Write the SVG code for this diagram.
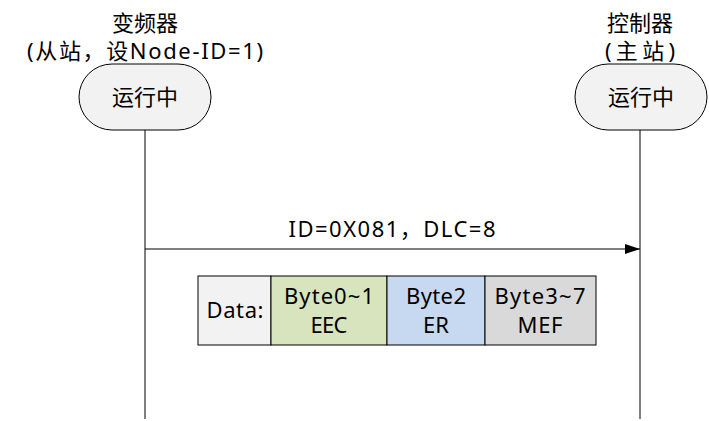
<svg xmlns="http://www.w3.org/2000/svg" width="709" height="421" viewBox="0 0 709 421">
<style>
text{font-family:"Noto Sans","Noto Sans CJK SC",sans-serif;font-size:22px;fill:#000;text-anchor:middle}
.node{fill:#f2f2f2;stroke:#000;stroke-width:1}
.life{stroke:#000;stroke-width:1;fill:none}
.cell{stroke:#000;stroke-width:1}
</style>
<defs>
<marker id="arr" markerWidth="16" markerHeight="10" refX="15" refY="5" orient="auto" markerUnits="userSpaceOnUse">
<path d="M0,0 L15,5 L0,10 Z" fill="#000"/>
</marker>
</defs>
<g id="connectors">
<line class="life" x1="145" y1="130" x2="145" y2="419"/>
<line class="life" x1="640" y1="130" x2="640" y2="419"/>
<line class="life" x1="145" y1="249" x2="640" y2="249" marker-end="url(#arr)"/>
<text x="392" y="237" textLength="207" lengthAdjust="spacing">ID=0X081，DLC=8</text>
</g>
<g id="slave">
<text x="145" y="31">变频器</text>
<text x="145" y="59" textLength="236" lengthAdjust="spacing">(从站，设Node-ID=1)</text>
<rect class="node" x="79" y="64" width="132" height="66" rx="33" ry="33"/>
<text x="145" y="105">运行中</text>
</g>
<g id="master">
<text x="640" y="31">控制器</text>
<text x="640" y="59" textLength="70" lengthAdjust="spacing">(主站)</text>
<rect class="node" x="575" y="64" width="132" height="66" rx="33" ry="33"/>
<text x="641" y="105">运行中</text>
</g>
<g id="data">
<rect class="cell" x="198" y="276" width="73" height="69" fill="#f2f2f2"/>
<rect class="cell" x="271" y="276" width="116" height="69" fill="#d7e4bd"/>
<rect class="cell" x="387" y="276" width="98" height="69" fill="#c6d9f1"/>
<rect class="cell" x="485" y="276" width="111" height="69" fill="#d9d9d9"/>
<text x="235" y="318" textLength="57" lengthAdjust="spacing">Data:</text>
<text x="329" y="304" textLength="90" lengthAdjust="spacing">Byte0~1</text>
<text x="329" y="333" textLength="37" lengthAdjust="spacing">EEC</text>
<text x="436" y="304" textLength="60" lengthAdjust="spacing">Byte2</text>
<text x="436" y="333" textLength="26" lengthAdjust="spacing">ER</text>
<text x="540" y="304" textLength="91" lengthAdjust="spacing">Byte3~7</text>
<text x="540" y="333" textLength="45" lengthAdjust="spacing">MEF</text>
</g>
</svg>
